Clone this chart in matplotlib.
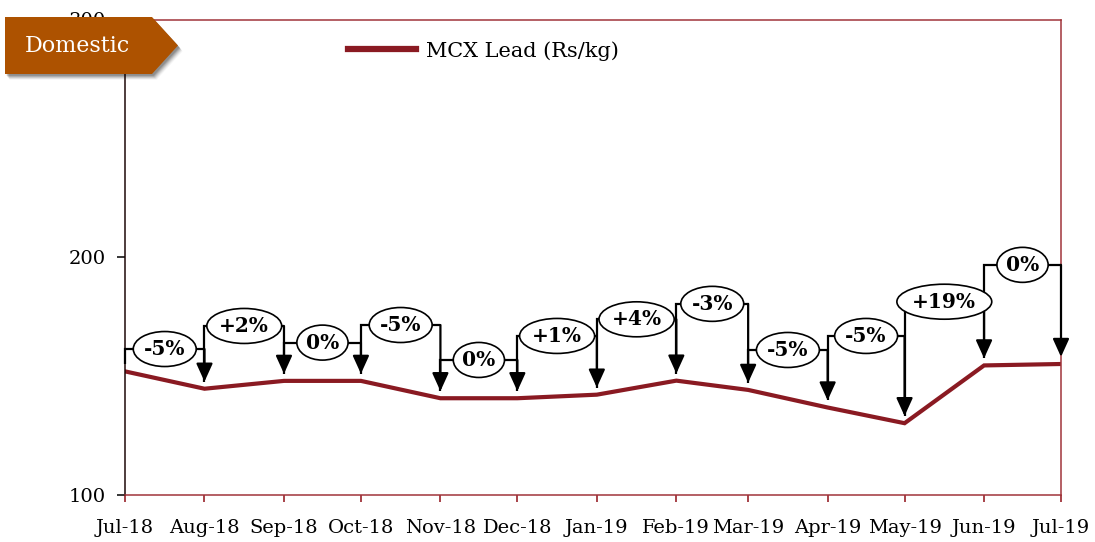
import matplotlib
matplotlib.use("Agg")
import matplotlib.pyplot as plt
import matplotlib.dates as mdates
from matplotlib.patches import Polygon, Ellipse
from matplotlib.transforms import ScaledTranslation
import pandas as pd

# ---- data -------------------------------------------------------------
months = ["Jul-18", "Aug-18", "Sep-18", "Oct-18", "Nov-18", "Dec-18", "Jan-19",
          "Feb-19", "Mar-19", "Apr-19", "May-19", "Jun-19", "Jul-19"]
lead_price = [152.0, 144.7, 148.0, 148.0, 140.7, 140.7, 142.2,
              148.1, 144.2, 136.8, 130.2, 154.5, 155.1]
y_ticks = [100, 200, 300]
series_name = "MCX Lead (Rs/kg)"
banner_text = "Domestic"

# ---- layout -----------------------------------------------------------
# height (Rs/kg) of each month-on-month change bracket
bracket_level = [161.4, 171.1, 164.1, 171.5, 156.8, 166.9,
                 173.9, 180.4, 161.0, 166.9, 181.3, 196.8]
arrow_gap = 3.0

LINE_RED = "#8a1a22"
SPINE_RED = "#a0343a"
BANNER = "#ad5200"

W, H = 1095, 542
DPI = 100
plt.rcParams["font.family"] = ["DejaVu Serif"]

fig = plt.figure(figsize=(W / DPI, H / DPI), dpi=DPI)
ax = fig.add_axes([125 / W, 1 - 495 / H, (1061 - 125) / W, (495 - 19.5) / H])

dates = pd.date_range("2018-07-01", periods=len(months), freq="MS")
xs = mdates.date2num(dates)

# price line
ax.plot(xs, lead_price, color=LINE_RED, lw=3.0, zorder=2,
        solid_joinstyle="miter", label=series_name)

# axes styling
ax.set_xlim(xs[0], xs[-1])
ax.set_ylim(y_ticks[0], y_ticks[-1])
ax.set_yticks(y_ticks)
ax.set_xticks(xs)
ax.set_xticklabels(months)
for side in ("top", "right", "bottom"):
    ax.spines[side].set_color(SPINE_RED)
    ax.spines[side].set_linewidth(1.1)
ax.spines["left"].set_color("#1e0808")
ax.spines["left"].set_linewidth(1.1)
ax.tick_params(axis="y", direction="out", length=6, width=1.1, color="black",
               pad=8, labelsize=14)
ax.tick_params(axis="x", direction="out", length=5, width=1.3, color=SPINE_RED,
               pad=12, labelsize=14)

# month-on-month change brackets
renderer = fig.canvas.get_renderer()
for i in range(1, len(xs)):
    x0, x1 = xs[i - 1], xs[i]
    lvl = bracket_level[i - 1]
    change = int(round((lead_price[i] / lead_price[i - 1] - 1) * 100))
    label = "0%" if change == 0 else f"{change:+d}%"
    ax.plot([x0, x0, x1], [lead_price[i - 1] + arrow_gap, lvl, lvl],
            color="black", lw=1.6, zorder=3, clip_on=False,
            solid_joinstyle="miter", solid_capstyle="butt")
    ax.annotate("", xy=(x1, lead_price[i] + arrow_gap), xytext=(x1, lvl),
                arrowprops=dict(arrowstyle="-|>,head_length=1.1,head_width=0.5",
                                mutation_scale=10, lw=1.6, color="black",
                                shrinkA=0, shrinkB=0),
                zorder=3, annotation_clip=False)
    xm = (x0 + x1) / 2
    txt = ax.text(xm, lvl, label, ha="center", va="center",
                  fontsize=14.5, fontweight="bold", color="black", zorder=6)
    tw = txt.get_window_extent(renderer).width
    ew, eh = 1.42 * tw + 4, 35.0
    ell = Ellipse((0, 0), ew / DPI, eh / DPI, fc="white", ec="black", lw=1.2,
                  zorder=5, clip_on=False,
                  transform=fig.dpi_scale_trans + ScaledTranslation(xm, lvl, ax.transData))
    ax.add_artist(ell)

leg = ax.legend(loc="center left", bbox_to_anchor=(0.238, 0.934), frameon=False,
                fontsize=15, handlelength=3.27, handletextpad=0.48,
                borderpad=0, borderaxespad=0)
for h in leg.get_lines():
    h.set_linewidth(4.5)

# section banner with soft shadow
def px(points):
    return [(x / W, 1 - y / H) for x, y in points]

shape = [(5, 17), (152, 17), (178, 45.5), (152, 74), (5, 74)]
for k, a in zip(range(6, 0, -1), [0.04, 0.06, 0.08, 0.10, 0.12, 0.14]):
    shadow = [(x + 1 + 0.6 * k, y + 1 + 0.8 * k) for x, y in shape]
    fig.add_artist(Polygon(px(shadow), closed=True, transform=fig.transFigure,
                           fc="black", ec="none", alpha=a, zorder=9))
fig.add_artist(Polygon(px(shape), closed=True, transform=fig.transFigure,
                       fc=BANNER, ec="none", zorder=10))
fig.text(77 / W, 1 - 46 / H, banner_text, ha="center", va="center",
         color="white", fontsize=16, zorder=11)

fig.savefig("out.png", dpi=DPI)
